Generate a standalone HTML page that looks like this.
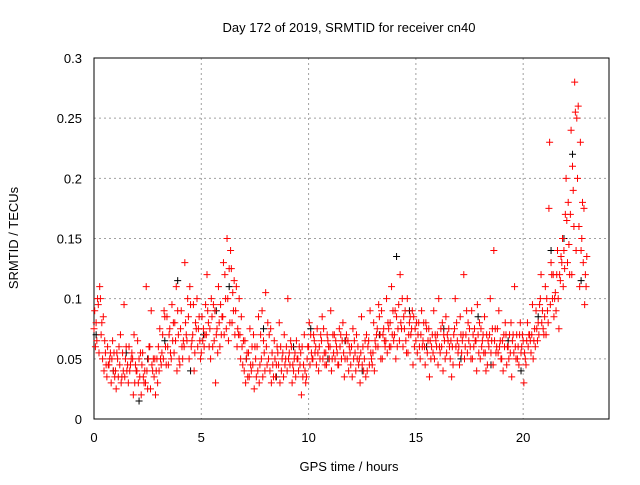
<!DOCTYPE html>
<html><head><meta charset="utf-8"><style>
body{margin:0;background:#fff;width:640px;height:480px;overflow:hidden}
svg{font-family:"Liberation Sans",sans-serif}
</style></head><body>
<svg id="chart" width="640" height="480" xmlns="http://www.w3.org/2000/svg">
<g id="grid"></g>
<g id="axes"></g>
<g id="black"></g>
<g id="red"></g>
<text x="349" y="32" font-size="13" text-anchor="middle">Day 172 of 2019, SRMTID for receiver cn40</text>
<text x="349" y="471" font-size="13" text-anchor="middle">GPS time / hours</text>
<text x="18" y="238" font-size="13" text-anchor="middle" transform="rotate(-90 18 238)">SRMTID / TECUs</text>
</svg>
<script>
const xTicks=[0,5,10,15,20];
const yTicks=[0,0.05,0.1,0.15,0.2,0.25,0.3];
const yTickLabels=["0","0.05","0.1","0.15","0.2","0.25","0.3"];
const redT=[0,0.2,0.4,0.6,0.8,1.0,1.2,1.4,1.6,1.8,2.0,2.2,2.4,2.6,2.8,3.0,3.2,3.4,3.6,3.8,4.0,4.2,4.4,4.6,4.8,5.0,5.2,5.4,5.6,5.8,6.0,6.2,6.4,6.6,6.8,7.0,7.2,7.4,7.6,7.8,8.0,8.2,8.4,8.6,8.8,9.0,9.2,9.4,9.6,9.8,10.0,10.2,10.4,10.6,10.8,11.0,11.2,11.4,11.6,11.8,12.0,12.2,12.4,12.6,12.8,13.0,13.2,13.4,13.6,13.8,14.0,14.2,14.4,14.6,14.8,15.0,15.2,15.4,15.6,15.8,16.0,16.2,16.4,16.6,16.8,17.0,17.2,17.4,17.6,17.8,18.0,18.2,18.4,18.6,18.8,19.0,19.2,19.4,19.6,19.8,20.0,20.2,20.4,20.6,20.8,21.0,21.2,21.4,21.6,21.8,22.0,22.2,22.4,22.6,22.8];
const redV1=[.075,.095,.05,.035,.03,.04,.045,.095,.03,.05,.04,.02,.03,.06,.035,.06,.07,.085,.05,.065,.045,.06,.085,.07,.1,.055,.095,.075,.065,.11,.085,.15,.125,.09,.07,.04,.055,.045,.06,.05,.105,.04,.065,.045,.055,.04,.06,.035,.045,.07,.06,.05,.075,.065,.055,.06,.07,.045,.08,.05,.06,.04,.03,.05,.065,.055,.075,.09,.065,.08,.07,.095,.06,.1,.075,.065,.05,.06,.075,.055,.07,.06,.085,.05,.075,.06,.07,.055,.09,.065,.05,.085,.06,.045,.075,.05,.07,.055,.11,.045,.065,.08,.07,.09,.1,.085,.175,.12,.14,.13,.2,.17,.28,.16,.13];
const redV2=[.09,.055,.085,.06,.05,.025,.07,.035,.06,.02,.065,.045,.11,.025,.05,.04,.05,.06,.095,.11,.075,.13,.05,.095,.06,.085,.07,.05,.09,.08,.13,.1,.08,.11,.05,.065,.035,.07,.04,.09,.06,.075,.05,.08,.035,.1,.03,.065,.055,.04,.08,.07,.055,.085,.045,.09,.05,.075,.055,.065,.035,.07,.055,.065,.045,.08,.06,.05,.1,.06,.09,.065,.085,.055,.09,.08,.07,.045,.035,.09,.045,.08,.055,.065,.1,.045,.12,.08,.05,.04,.075,.055,.07,.14,.055,.065,.045,.08,.06,.07,.03,.06,.095,.075,.12,.11,.23,.085,.1,.15,.165,.24,.255,.11,.175];
const redV3=[.06,.11,.04,.045,.065,.055,.03,.05,.04,.07,.03,.055,.04,.09,.02,.075,.09,.045,.065,.04,.09,.08,.11,.04,.075,.065,.12,.1,.03,.06,.07,.065,.105,.06,.085,.03,.075,.025,.085,.035,.045,.03,.035,.03,.07,.05,.045,.05,.02,.03,.045,.065,.04,.05,.07,.04,.065,.06,.035,.04,.075,.05,.085,.035,.09,.04,.095,.07,.055,.11,.05,.12,.075,.07,.045,.055,.09,.08,.065,.05,.1,.04,.07,.035,.06,.085,.05,.065,.07,.095,.06,.04,.1,.065,.09,.04,.06,.035,.05,.08,.055,.07,.05,.065,.08,.07,.095,.1,.075,.11,.13,.12,.14,.23,.095];
const redV4=[.08,.1,.065,.045,.04,.05,.035,.06,.045,.03,.05,.035,.025,.045,.04,.05,.085,.07,.08,.09,.06,.07,.095,.055,.085,.075,.09,.085,.07,.095,.12,.125,.09,.075,.06,.05,.045,.06,.03,.065,.08,.055,.045,.06,.045,.055,.04,.05,.06,.035,.07,.055,.06,.075,.065,.05,.06,.07,.05,.06,.05,.06,.045,.07,.055,.065,.085,.075,.08,.07,.085,.08,.09,.08,.085,.07,.06,.075,.05,.07,.06,.07,.065,.06,.08,.07,.06,.075,.06,.07,.065,.07,.055,.075,.06,.07,.06,.065,.07,.055,.05,.07,.065,.08,.09,.1,.13,.105,.12,.14,.18,.21,.25,.14,.12];
const redV5=[.065,.07,.055,.05,.055,.035,.055,.04,.05,.045,.035,.03,.05,.04,.05,.045,.06,.075,.055,.07,.05,.065,.06,.08,.065,.06,.08,.06,.075,.07,.1,.08,.115,.07,.045,.055,.04,.05,.045,.055,.05,.045,.06,.04,.05,.045,.05,.04,.035,.05,.055,.06,.05,.055,.06,.07,.055,.05,.065,.055,.065,.045,.06,.04,.05,.06,.07,.065,.075,.09,.06,.075,.065,.085,.06,.08,.065,.055,.06,.065,.055,.065,.075,.045,.065,.055,.07,.06,.075,.055,.07,.045,.065,.055,.065,.06,.05,.07,.05,.06,.045,.065,.075,.07,.075,.09,.12,.09,.115,.125,.145,.19,.2,.15,.11];
const redV6=[.1,.08,.045,.055,.035,.06,.04,.045,.055,.04,.055,.04,.06,.05,.03,.055,.045,.055,.08,.05,.065,.1,.065,.075,.05,.07,.06,.095,.055,.085,.075,.14,.07,.1,.065,.035,.06,.035,.07,.04,.07,.035,.055,.05,.06,.065,.055,.06,.045,.06,.05,.045,.07,.045,.05,.055,.045,.065,.07,.045,.055,.05,.04,.06,.045,.07,.05,.06,.06,.065,.075,.1,.055,.07,.075,.06,.08,.065,.07,.06,.075,.05,.06,.07,.055,.065,.09,.05,.065,.08,.055,.065,.075,.06,.05,.08,.07,.055,.06,.07,.065,.055,.06,.095,.07,.08,.1,.12,.135,.17,.12,.16,.26,.18,.135];
const blackT=[0.1,0.9,1.5,2.1,2.5,3.3,3.9,4.5,5.1,5.7,6.3,7.1,7.9,8.5,9.3,10.1,10.9,11.7,12.5,13.3,14.1,14.7,15.5,16.3,17.1,17.9,18.5,19.3,19.9,20.7,21.3,21.9,22.3,22.7];
const blackV=[.07,.04,.055,.015,.05,.065,.115,.04,.07,.09,.11,.05,.075,.035,.06,.075,.05,.065,.04,.07,.135,.09,.06,.075,.05,.085,.045,.065,.04,.085,.14,.15,.22,.115];
const NS="http://www.w3.org/2000/svg";
const L=94,R=609,T=58,B=419;
const xs=h=>L+h*(R-L)/24;
const ys=v=>B-v*(B-T)/0.3;
function mk(tag,attrs,parent){const e=document.createElementNS(NS,tag);for(const k in attrs)e.setAttribute(k,attrs[k]);parent.appendChild(e);return e;}
const grid=document.getElementById('grid'),axes=document.getElementById('axes');
xTicks.forEach(t=>{
  if(t>0){const g=mk('line',{x1:xs(t),x2:xs(t),y1:T,y2:B,stroke:'#a0a0a0','stroke-dasharray':'2,3'},grid);
  
  }
  const tx=mk('text',{x:xs(t),y:442,'font-size':13,'text-anchor':'middle'},axes);tx.textContent=t;
  
  
});
yTicks.forEach((v,i)=>{
  if(i>0&&i<yTicks.length-1){const g=mk('line',{x1:L,x2:R,y1:ys(v),y2:ys(v),stroke:'#a0a0a0','stroke-dasharray':'2,3'},grid);
  
  }
  const tx=mk('text',{x:82,y:ys(v)+5,'font-size':13,'text-anchor':'end'},axes);tx.textContent=yTickLabels[i];
  
  
});
const fr=mk('rect',{x:L,y:T,width:R-L,height:B-T,fill:'none',stroke:'#000','stroke-width':1},axes);


function cross(parent,t,v,col){
  const x=xs(t),y=ys(v);
  const p=mk('path',{d:`M${x-3.5} ${y}H${x+3.5}M${x} ${y-3.5}V${y+3.5}`,stroke:col,'stroke-width':1,fill:'none'},parent);
  
  
}
const bg=document.getElementById('black'),rg=document.getElementById('red');
blackT.forEach((t,i)=>cross(bg,t,blackV[i],'#000'));
[redV1,redV2,redV3,redV4,redV5,redV6].forEach((arr,k)=>redT.forEach((t,i)=>cross(rg,t+k*0.033,arr[i],'#ff0000')));
</script>
</body></html>
